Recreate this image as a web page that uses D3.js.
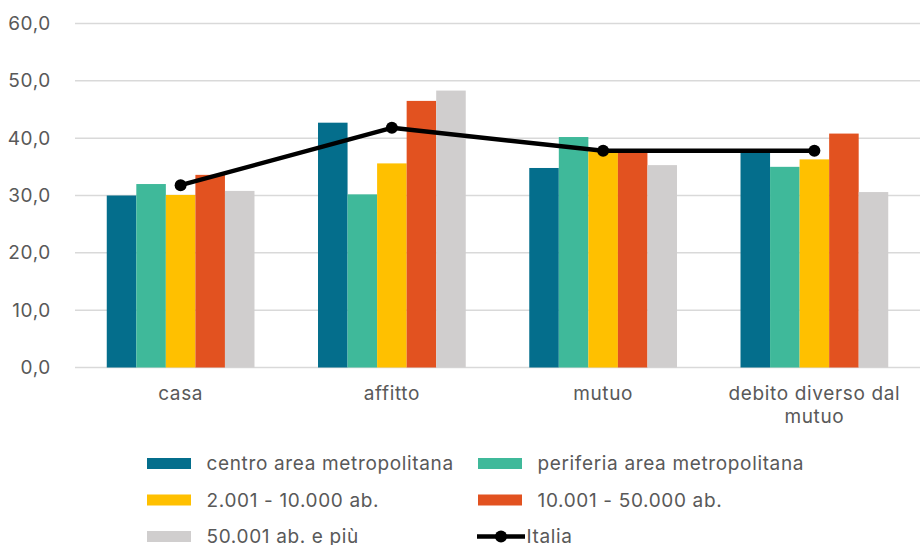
<!DOCTYPE html>
<html>
<head>
<meta charset="utf-8">
<script src="https://cdn.jsdelivr.net/npm/d3@7"></script>
<style>
  html, body { margin: 0; padding: 0; background: #fff; overflow: hidden; }
  svg { display: block; }
  .lbl { font-family: Inter, "Open Sans", sans-serif; font-size: 19px; letter-spacing: 0.65px; fill: #595959; }
</style>
</head>
<body>
<svg id="chart" width="920" height="545"></svg>
<script>
// Categories and series
const categories = ["casa", "affitto", "mutuo", "debito diverso dal mutuo"];
const seriesNames = [
  "centro area metropolitana",
  "periferia area metropolitana",
  "2.001 - 10.000 ab.",
  "10.001 - 50.000 ab.",
  "50.001 ab. e più"
];
const centro    = [30.0, 42.7, 34.8, 38.0];
const periferia = [32.0, 30.2, 40.2, 35.0];
const piccoli   = [30.1, 35.6, 37.7, 36.3];
const medi      = [33.6, 46.5, 37.8, 40.8];
const grandi    = [30.8, 48.3, 35.3, 30.6];
const italia    = [31.8, 41.8, 37.8, 37.8];
const yTicks = [0, 10, 20, 30, 40, 50, 60];
const colors = ["#046E8C", "#3FB99A", "#FFC000", "#E25220", "#D0CECE"];

const seriesValues = [centro, periferia, piccoli, medi, grandi];

const svg = d3.select("#chart");
const margin = { left: 75, right: 0, top: 23.5, bottom: 177.5 };
const W = 920, H = 545;

const x = d3.scaleBand().domain(categories).range([margin.left, W - margin.right]).paddingInner(0).paddingOuter(0);
const inner = d3.scaleBand().domain(d3.range(seriesNames.length)).range([0, x.bandwidth()]).paddingOuter(1.075).paddingInner(0);
const y = d3.scaleLinear().domain([0, 60]).range([H - margin.bottom, margin.top]);

const fmt = v => d3.format(".1f")(v).replace(".", ",");

// Gridlines
svg.append("g").selectAll("line").data(yTicks).join("line")
  .attr("x1", margin.left).attr("x2", W - margin.right)
  .attr("y1", d => y(d)).attr("y2", d => y(d))
  .attr("stroke", "#D9D9D9").attr("stroke-width", 1.5);

// Y axis labels
const yAxis = d3.axisLeft(y).tickValues(yTicks).tickFormat(fmt).tickSize(0).tickPadding(0);
const gy = svg.append("g").attr("transform", `translate(51,0)`).call(yAxis);
gy.select(".domain").remove();
gy.attr("font-family", null).attr("font-size", null);
gy.selectAll("text").attr("class", "lbl").attr("fill", null);

// Bars
const groups = svg.append("g").selectAll("g").data(seriesValues).join("g")
  .attr("fill", (d, i) => colors[i]);
groups.each(function(vals, si) {
  d3.select(this).selectAll("rect").data(vals).join("rect")
    .attr("x", (v, ci) => x(categories[ci]) + inner(si))
    .attr("width", inner.bandwidth())
    .attr("y", v => y(v))
    .attr("height", v => y(0) - y(v));
});

// Category labels
const xAxis = d3.axisBottom(x).tickSize(0).tickPadding(0);
const gx = svg.append("g").attr("transform", `translate(0,${y(0)})`).call(xAxis);
gx.select(".domain").remove();
gx.attr("font-family", null).attr("font-size", null);
gx.selectAll("text").attr("class", "lbl").attr("fill", null)
  .attr("dy", null).attr("y", 0)
  .each(function(d) {
    const t = d3.select(this);
    t.text(null);
    const lines = d === "debito diverso dal mutuo" ? ["debito diverso dal", "mutuo"] : [d];
    lines.forEach((l, i) => t.append("tspan").attr("x", 0).attr("y", 32.5 + i * 23).text(l));
  });

// Italia line
const line = d3.line().x((d, i) => x(categories[i]) + x.bandwidth() / 2).y(d => y(d));
svg.append("path").datum(italia).attr("d", line)
  .attr("fill", "none").attr("stroke", "#000").attr("stroke-width", 4.5).attr("stroke-linejoin", "round");
svg.append("g").selectAll("circle").data(italia).join("circle")
  .attr("cx", (d, i) => x(categories[i]) + x.bandwidth() / 2)
  .attr("cy", d => y(d)).attr("r", 6).attr("fill", "#000");

// Legend
const legendItems = seriesNames.map((n, i) => ({ name: n, color: colors[i], type: "bar" }))
  .concat([{ name: "Italia", color: "#000", type: "line" }]);
const lg = svg.append("g").selectAll("g").data(legendItems).join("g")
  .attr("transform", (d, i) => `translate(${i % 2 === 0 ? 147 : 478},${463.5 + Math.floor(i / 2) * 36.5})`);
lg.filter(d => d.type === "bar").append("rect")
  .attr("x", 0).attr("y", -5.5).attr("width", 44).attr("height", 11).attr("fill", d => d.color);
lg.filter(d => d.type === "line").append("line")
  .attr("x1", -1).attr("x2", 47).attr("y1", 0).attr("y2", 0).attr("stroke", "#000").attr("stroke-width", 4.5);
lg.filter(d => d.type === "line").append("circle")
  .attr("cx", 23).attr("cy", 0).attr("r", 6).attr("fill", "#000");
lg.append("text").attr("class", "lbl")
  .attr("x", d => d.type === "line" ? 48.5 : 59.5).attr("y", 0).attr("dy", "0.36em")
  .text(d => d.name);
</script>
</body>
</html>
